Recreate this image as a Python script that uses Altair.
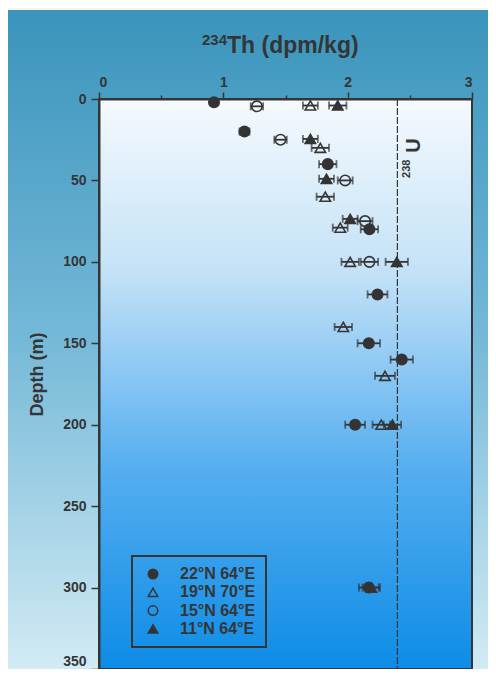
import altair as alt
import pandas as pd

# ---------------- data ----------------
stations = ["22°N 64°E", "19°N 70°E", "15°N 64°E", "11°N 64°E"]
shapes = ["circle", "triangle-up", "circle", "triangle-up"]
fills = ["#333333", "transparent", "transparent", "#333333"]

depth_a = [2, 20, 40, 80, 120, 150, 160, 200, 300]
th_a = [0.925, 1.17, 1.84, 2.175, 2.24, 2.17, 2.435, 2.06, 2.17]
err_a = [0.03, 0.04, 0.07, 0.07, 0.08, 0.09, 0.09, 0.08, 0.08]

depth_b = [4, 30, 60, 79, 100, 140, 170, 200]
th_b = [1.70, 1.78, 1.82, 1.94, 2.02, 1.965, 2.30, 2.27]
err_b = [0.06, 0.07, 0.07, 0.06, 0.07, 0.07, 0.08, 0.07]

depth_c = [4.5, 25, 50, 75, 100]
th_c = [1.27, 1.46, 1.98, 2.14, 2.175]
err_c = [0.05, 0.05, 0.06, 0.06, 0.07]

depth_d = [4, 24.5, 49, 73.6, 100, 200, 300]
th_d = [1.92, 1.70, 1.83, 2.02, 2.395, 2.36, 2.19]
err_d = [0.07, 0.06, 0.06, 0.06, 0.09, 0.07, 0.07]

u238 = 2.4
x_ticks = [0, 0.5, 1, 1.5, 2, 2.5, 3]
y_ticks = [0, 50, 100, 150, 200, 250, 300, 350]

rows = []
for st, ds, ts, es in zip(stations,
                          [depth_a, depth_b, depth_c, depth_d],
                          [th_a, th_b, th_c, th_d],
                          [err_a, err_b, err_c, err_d]):
    for d, t, e in zip(ds, ts, es):
        rows.append({"station": st, "depth": d, "th": t, "lo": t - e, "hi": t + e})
df = pd.DataFrame(rows)

INK = "#353535"
W, H = 373, 570

xscale = alt.Scale(domain=[0, 3], nice=False, zero=False)
yscale = alt.Scale(domain=[0, 350], reverse=True, nice=False)

xaxis = alt.Axis(orient="top", values=x_ticks, title=None, grid=False,
                 labelExpr="datum.value % 1 === 0 ? datum.value : ''",
                 tickSize={"condition": {"test": "datum.value % 1 !== 0", "value": 4}, "value": 7},
                 labelFontSize=14, labelFontWeight="bold", labelPadding=3,
                 domainColor=INK, tickColor=INK, labelColor=INK,
                 domainWidth=2, tickWidth=1.5, zindex=1)
yaxis = alt.Axis(orient="left", values=y_ticks, title="Depth (m)", grid=False,
                 tickSize=8, labelFontSize=14, labelFontWeight="bold", labelPadding=5,
                 labelOffset={"condition": {"test": "datum.value === 350", "value": -8}, "value": 0},
                 domainColor=INK, tickColor=INK, labelColor=INK,
                 domainWidth=2, tickWidth=1.5,
                 titleFontSize=18, titleFontWeight="bold", titleColor=INK,
                 titleX=-62, titleY=275, titleAngle=270, titleAlign="center",
                 titleBaseline="middle", zindex=1)

one = alt.Data(values=[{"k": 1}])

outer_grad = alt.Gradient(gradient="linear", x1=0, x2=0, y1=0, y2=1, stops=[
    alt.GradientStop(offset=0, color="#3a94bc"),
    alt.GradientStop(offset=0.5, color="#75b9d8"),
    alt.GradientStop(offset=1, color="#d2ebf4")])
inner_grad = alt.Gradient(gradient="linear", x1=0, x2=0, y1=0, y2=1, stops=[
    alt.GradientStop(offset=0, color="#f5fafd"),
    alt.GradientStop(offset=0.3, color="#c4e2f7"),
    alt.GradientStop(offset=0.65, color="#55aef0"),
    alt.GradientStop(offset=1, color="#0d8ce6")])

outer = alt.Chart(one).mark_rect(fill=outer_grad).encode(
    x=alt.value(-91), x2=alt.value(W + 16), y=alt.value(-89), y2=alt.value(H + 2))
inner = alt.Chart(one).mark_rect(fill=inner_grad, stroke=INK, strokeWidth=2).encode(
    x=alt.value(0), x2=alt.value(W), y=alt.value(0), y2=alt.value(H))

base = alt.Chart(df)

ref_df = pd.DataFrame({"u": [u238]})
ref_line = alt.Chart(ref_df).mark_rule(color=INK, strokeWidth=1.2, strokeDash=[7, 2]).encode(
    x=alt.X("u:Q", scale=xscale, axis=xaxis))

lab_df = pd.DataFrame({"u": [u238, u238], "depth": [33, 48.5], "txt": ["U", "238"]})
lab_u = alt.Chart(lab_df).transform_filter("datum.txt === 'U'").mark_text(
    angle=270, align="left", baseline="alphabetic", dy=23, fontSize=20,
    fontWeight="bold", color=INK, font="Liberation Sans").encode(
    x=alt.X("u:Q", scale=xscale), y=alt.Y("depth:Q", scale=yscale), text="txt:N")
lab_238 = alt.Chart(lab_df).transform_filter("datum.txt === '238'").mark_text(
    angle=270, align="left", baseline="alphabetic", dy=13, fontSize=11,
    fontWeight="bold", color=INK, font="Liberation Sans").encode(
    x=alt.X("u:Q", scale=xscale), y=alt.Y("depth:Q", scale=yscale), text="txt:N")

bars = base.mark_rule(color=INK, strokeWidth=1.8).encode(
    x=alt.X("lo:Q", scale=xscale, axis=xaxis), x2="hi:Q",
    y=alt.Y("depth:Q", scale=yscale, axis=yaxis))
cap_lo = base.mark_tick(color=INK, orient="vertical", size=8, thickness=1.8).encode(
    x=alt.X("lo:Q", scale=xscale), y=alt.Y("depth:Q", scale=yscale))
cap_hi = base.mark_tick(color=INK, orient="vertical", size=8, thickness=1.8).encode(
    x=alt.X("hi:Q", scale=xscale), y=alt.Y("depth:Q", scale=yscale))

leg = alt.Legend(title=None, orient="none", legendX=33, legendY=457,
                 labelFontSize=16, labelFontWeight="bold", labelColor=INK,
                 labelFont="Liberation Sans", symbolSize=90, symbolStrokeColor=INK,
                 symbolStrokeWidth=1.5, symbolOffset=3, labelOffset=19,
                 rowPadding=2.3, padding=10, strokeColor=INK)
pts = base.mark_point(filled=True, size=110, strokeWidth=1.6, opacity=1).encode(
    x=alt.X("th:Q", scale=xscale), y=alt.Y("depth:Q", scale=yscale),
    shape=alt.Shape("station:N", scale=alt.Scale(domain=stations, range=shapes), legend=leg),
    fill=alt.Fill("station:N", scale=alt.Scale(domain=stations, range=fills), legend=leg),
    stroke=alt.Stroke("station:N", scale=alt.Scale(domain=stations, range=[INK] * 4), legend=leg))

title_df = pd.DataFrame({"a": ["234"], "b": ["Th (dpm/kg)"]})
t_sup = alt.Chart(title_df).mark_text(align="right", baseline="alphabetic", fontSize=15,
                                       fontWeight="bold", color=INK, font="Liberation Sans").encode(
    x=alt.value(128), y=alt.value(-54), text="a:N")
t_main = alt.Chart(title_df).mark_text(align="left", baseline="alphabetic", fontSize=23,
                                        fontWeight="bold", color=INK, font="Liberation Sans").encode(
    x=alt.value(128), y=alt.value(-46), text="b:N")

chart = alt.layer(outer, inner, ref_line, bars, cap_lo, cap_hi, pts, lab_u, lab_238, t_sup, t_main).properties(
    width=W, height=H, background="#fbf3e6",
    autosize=alt.AutoSizeParams(type="none"),
    padding={"left": 91, "top": 91, "right": 16, "bottom": 0},
).configure_view(stroke=None).configure_legend(strokeWidth=2).configure_axis(
    labelFont="Liberation Sans", titleFont="Liberation Sans")

chart.save("out.html", embed_options={"renderer": "svg", "actions": False})
